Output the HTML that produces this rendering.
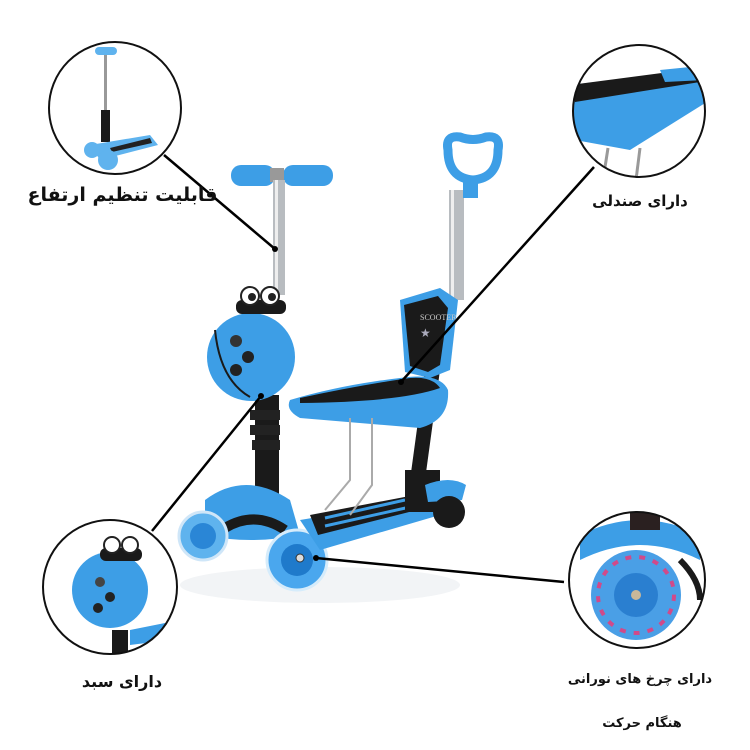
<!DOCTYPE html>
<html><head><meta charset="utf-8"><style>
html,body{margin:0;padding:0;background:#fff}
body{position:relative;width:750px;height:750px;overflow:hidden}
svg{display:block;position:absolute;left:0;top:0}
.l{position:absolute;font-family:"DejaVu Sans","Liberation Sans",sans-serif;font-weight:bold;color:#111;direction:rtl;white-space:nowrap;text-align:center;line-height:1}
</style></head><body>
<svg width="750" height="750" viewBox="0 0 750 750" xmlns="http://www.w3.org/2000/svg">
<defs>
<clipPath id="c1"><circle cx="115" cy="108" r="66"/></clipPath>
<clipPath id="c2"><circle cx="639" cy="111" r="66"/></clipPath>
<clipPath id="c3"><circle cx="110" cy="587" r="67"/></clipPath>
<clipPath id="c4"><circle cx="637" cy="580" r="68"/></clipPath>
</defs>
<ellipse cx="320" cy="585" rx="140" ry="18" fill="#f2f4f6"/>
<rect x="231" y="165" width="44" height="21" rx="10" fill="#3d9ee6"/>
<rect x="283" y="165" width="50" height="21" rx="10" fill="#3d9ee6"/>
<rect x="270" y="168" width="14" height="14" fill="#999"/>
<rect x="273" y="180" width="12" height="115" fill="#b8bcc0"/>
<rect x="275" y="180" width="3" height="115" fill="#eee"/>
<rect x="255" y="395" width="24" height="110" fill="#1a1a1a"/>
<path d="M250 410 h30 v10 h-30z M250 425 h30 v10 h-30z M252 440 h28 v10 h-28z" fill="#222"/>
<path d="M205 500 Q245 470 290 500 L300 535 Q250 545 205 535 Z" fill="#3d9ee6"/>
<path d="M225 528 Q255 510 285 530" stroke="#1a1a1a" stroke-width="10" fill="none"/>
<circle cx="203" cy="536" r="24" fill="#5fb3ee" stroke="#cfe6f8" stroke-width="3"/>
<circle cx="203" cy="536" r="13" fill="#2a86d6"/>
<circle cx="297" cy="560" r="30" fill="#4aa7ee" stroke="#d6ecfb" stroke-width="3"/>
<circle cx="297" cy="560" r="16" fill="#1f7acb"/>
<circle cx="300" cy="558" r="4" fill="#ddd" stroke="#333"/>
<path d="M300 520 L420 500 L440 515 L320 550 Z" fill="#3d9ee6"/>
<path d="M310 515 L415 495 L425 508 L318 535 Z" fill="#1a1a1a"/>
<g stroke="#3d9ee6" stroke-width="3"><line x1="325" y1="518" x2="405" y2="500"/><line x1="325" y1="526" x2="410" y2="507"/></g>
<rect x="405" y="470" width="35" height="42" fill="#1a1a1a"/>
<path d="M425 485 Q450 475 466 485 L462 500 L428 502Z" fill="#3d9ee6"/>
<circle cx="449" cy="512" r="16" fill="#1a1a1a"/>
<path d="M425 370 L440 370 L425 480 L410 480Z" fill="#1a1a1a"/>
<rect x="449" y="190" width="15" height="110" fill="#b8bcc0"/>
<rect x="451" y="190" width="3" height="110" fill="#eee"/>
<rect x="463" y="178" width="15" height="20" fill="#3d9ee6"/>
<path d="M448 150 Q445 135 460 137 Q473 142 486 137 Q501 135 498 150 Q498 178 473 180 Q448 178 448 150Z" fill="none" stroke="#3d9ee6" stroke-width="9"/>
<path d="M400 300 L440 288 L458 300 L450 370 L430 378 L405 372 Z" fill="#3d9ee6"/>
<path d="M404 305 L438 296 L448 308 L440 365 L428 372 L410 366 Z" fill="#1a1a1a"/>
<text x="420" y="320" font-size="8" fill="#ccc" font-family="Liberation Serif,serif">SCOOTER</text>
<text x="420" y="337" font-size="12" fill="#aab">★</text>
<path d="M290 400 Q340 385 400 378 Q440 372 448 390 Q450 420 420 428 L300 418 Q285 410 290 400Z" fill="#3d9ee6"/>
<path d="M300 398 Q360 385 410 378 Q432 376 440 388 Q400 402 300 403Z" fill="#1a1a1a"/>
<g stroke="#aaa" stroke-width="2" fill="none"><path d="M350 418 V480 L325 510"/><path d="M372 418 V485 L350 515"/></g>
<circle cx="251" cy="357" r="44" fill="#3d9ee6"/>
<path d="M215 330 Q220 380 250 397" stroke="#1a1a1a" stroke-width="2" fill="none"/>
<circle cx="236" cy="341" r="6" fill="#333"/><circle cx="248" cy="357" r="6" fill="#222"/><circle cx="236" cy="370" r="6" fill="#222"/>
<rect x="236" y="300" width="50" height="14" rx="6" fill="#1a1a1a"/>
<circle cx="250" cy="296" r="9" fill="#fff" stroke="#222" stroke-width="2"/><circle cx="270" cy="296" r="9" fill="#fff" stroke="#222" stroke-width="2"/>
<circle cx="252" cy="297" r="4" fill="#222"/><circle cx="272" cy="297" r="4" fill="#222"/>
<g clip-path="url(#c1)">
<rect x="104" y="50" width="3" height="80" fill="#999"/>
<rect x="95" y="47" width="22" height="8" rx="4" fill="#5fb3ee"/>
<rect x="101" y="110" width="9" height="32" fill="#1a1a1a"/>
<path d="M90 145 L150 135 L158 145 L100 160Z" fill="#5fb3ee"/>
<path d="M110 148 L150 138 L152 143 L112 152Z" fill="#222"/>
<circle cx="108" cy="160" r="10" fill="#5fb3ee"/>
<circle cx="92" cy="150" r="8" fill="#5fb3ee"/>
</g>
<circle cx="115" cy="108" r="66" fill="none" stroke="#111" stroke-width="2"/>
<g clip-path="url(#c2)">
<path d="M570 85 L700 70 L710 100 L630 150 L575 140Z" fill="#3d9ee6"/>
<path d="M570 85 L700 68 L700 82 L575 102Z" fill="#1a1a1a"/>
<path d="M660 70 L700 66 L705 80 L665 82Z" fill="#3d9ee6"/>
<line x1="608" y1="148" x2="603" y2="180" stroke="#999" stroke-width="3"/>
<line x1="640" y1="148" x2="636" y2="180" stroke="#999" stroke-width="3"/>
</g>
<circle cx="639" cy="111" r="66" fill="none" stroke="#111" stroke-width="2"/>
<g clip-path="url(#c3)">
<circle cx="110" cy="590" r="38" fill="#3d9ee6"/>
<circle cx="100" cy="582" r="5" fill="#444"/><circle cx="110" cy="597" r="5" fill="#222"/><circle cx="98" cy="608" r="5" fill="#222"/>
<rect x="100" y="548" width="42" height="13" rx="6" fill="#1a1a1a"/>
<circle cx="112" cy="545" r="8" fill="#fff" stroke="#222" stroke-width="2"/><circle cx="130" cy="545" r="8" fill="#fff" stroke="#222" stroke-width="2"/>
<rect x="112" y="630" width="16" height="30" fill="#1a1a1a"/>
<path d="M130 630 L170 622 L170 640 L130 645Z" fill="#3d9ee6"/>
</g>
<circle cx="110" cy="587" r="67" fill="none" stroke="#111" stroke-width="2"/>
<g clip-path="url(#c4)">
<path d="M580 535 Q640 505 700 535 L700 560 Q640 530 580 560Z" fill="#3d9ee6"/>
<rect x="630" y="505" width="30" height="25" fill="#2a2020"/>
<circle cx="636" cy="595" r="45" fill="#4a9fe6"/>
<circle cx="636" cy="595" r="38" fill="none" stroke="#d04a8a" stroke-width="4" stroke-dasharray="6 8"/>
<circle cx="636" cy="595" r="22" fill="#2a7fd0"/>
<circle cx="636" cy="595" r="5" fill="#c8b89a"/>
<path d="M680 560 Q700 580 700 600" stroke="#1a1a1a" stroke-width="6" fill="none"/>
</g>
<circle cx="637" cy="580" r="68" fill="none" stroke="#111" stroke-width="2"/>
<g stroke="#000" stroke-width="2.5">
<line x1="164" y1="155" x2="275" y2="249"/>
<line x1="594" y1="167" x2="401" y2="382"/>
<line x1="152" y1="531" x2="261" y2="396"/>
<line x1="316" y1="558" x2="564" y2="582"/>
</g>
<g fill="#000"><circle cx="275" cy="249" r="3"/><circle cx="401" cy="382" r="3"/><circle cx="261" cy="396" r="3"/><circle cx="316" cy="558" r="3"/></g>
</svg>
<div class="l" style="left:20px;top:186px;width:205px;font-size:19px">قابلیت تنظیم ارتفاع</div>
<div class="l" style="left:580px;top:194px;width:120px;font-size:15px">دارای صندلی</div>
<div class="l" style="left:65px;top:674px;width:114px;font-size:16px">دارای سبد</div>
<div class="l" style="left:555px;top:673px;width:170px;font-size:13px">دارای چرخ های نورانی</div>
<div class="l" style="left:580px;top:717px;width:124px;font-size:13px">هنگام حرکت</div>
</body></html>
